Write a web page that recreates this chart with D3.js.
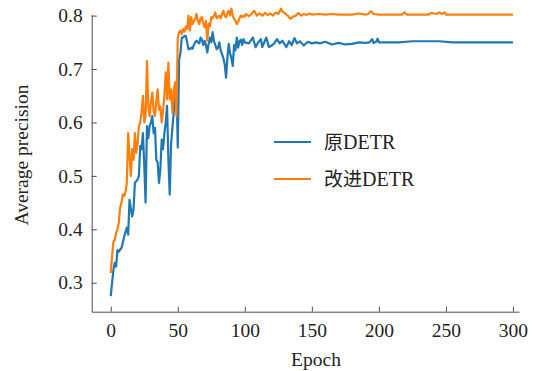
<!DOCTYPE html>
<html>
<head>
<meta charset="utf-8">
<script src="https://cdn.jsdelivr.net/npm/d3@7"></script>
<style>
    html, body { margin: 0; padding: 0; background: #fff; }
    svg { display: block; }
    svg text { font-family: 'Liberation Serif', 'DejaVu Serif', serif; fill: #222; }
    .axis path, .axis line { stroke: #4d4d4d; stroke-width: 1; }
    .axis text { font-size: 19.5px; font-family: 'Liberation Serif', serif; }
    .label { font-size: 19.5px; }
    .legend text { font-size: 20px; }
    .legend .cjk { font-family: 'Noto Sans CJK SC', sans-serif; font-size: 19px; }
    .legend .latin { font-family: 'Liberation Serif', serif; }
</style>
</head>
<body>
<div id="chart"></div>
<script>
// data: [epoch, average precision]
const seriesNames = ['原DETR', '改进DETR'];
const seriesColors = ['#1f77b4', '#ff7f0e'];
const xTicks = [0, 50, 100, 150, 200, 250, 300];
const yTicks = [0.3, 0.4, 0.5, 0.6, 0.7, 0.8];

const originalDetr = [
    [0, 0.275], [1, 0.30], [2, 0.324], [3, 0.337], [4, 0.33], [5, 0.361], [6, 0.358], [7, 0.362],
    [8, 0.365], [9, 0.375], [10, 0.386], [11, 0.395], [12, 0.403], [13, 0.39], [14, 0.455],
    [15, 0.44], [16, 0.424], [17, 0.437], [18, 0.487], [19, 0.49], [20, 0.493], [21, 0.50],
    [22, 0.556], [23, 0.55], [24, 0.58], [25, 0.52], [26, 0.45], [27, 0.593], [28, 0.57],
    [29, 0.593], [30, 0.60], [31, 0.612], [32, 0.58], [33, 0.59], [34, 0.53], [35, 0.525],
    [36, 0.487], [37, 0.512], [38, 0.568], [39, 0.55], [40, 0.58], [41, 0.60], [42, 0.631],
    [43, 0.53], [44, 0.465], [45, 0.56], [46, 0.59], [47, 0.62], [48, 0.662], [49, 0.675],
    [50, 0.553], [51, 0.718], [52, 0.73], [53, 0.759], [54, 0.759], [55, 0.762], [56, 0.762],
    [57, 0.75], [58, 0.737], [59, 0.737], [60, 0.74], [61, 0.738], [62, 0.745], [63, 0.75],
    [64, 0.753], [65, 0.75], [66, 0.748], [67, 0.759], [68, 0.755], [69, 0.745], [70, 0.753],
    [71, 0.745], [72, 0.731], [73, 0.747], [74, 0.759], [75, 0.75], [76, 0.769], [77, 0.752],
    [78, 0.745], [79, 0.737], [80, 0.74], [81, 0.75], [82, 0.735], [83, 0.728], [84, 0.72],
    [85, 0.709], [86, 0.684], [87, 0.72], [88, 0.747], [89, 0.73], [90, 0.72], [91, 0.706],
    [92, 0.745], [93, 0.735], [94, 0.759], [95, 0.74], [96, 0.752], [97, 0.755], [98, 0.745],
    [99, 0.756], [100, 0.75], [103, 0.748], [106, 0.759], [108, 0.741], [110, 0.75],
    [112, 0.756], [113, 0.741], [116, 0.759], [118, 0.741], [120, 0.744], [122, 0.748],
    [124, 0.756], [126, 0.748], [128, 0.753], [131, 0.741], [133, 0.752], [135, 0.745],
    [137, 0.758], [139, 0.748], [141, 0.752], [144, 0.744], [147, 0.751], [150, 0.748],
    [153, 0.75], [156, 0.748], [160, 0.751], [165, 0.746], [170, 0.749], [175, 0.746],
    [180, 0.747], [185, 0.75], [190, 0.749], [193, 0.75], [195, 0.756], [196, 0.749],
    [198, 0.751], [199, 0.757], [200, 0.75], [215, 0.75], [225, 0.752], [245, 0.752],
    [255, 0.75], [300, 0.75],
];

const improvedDetr = [
    [0, 0.318], [1, 0.35], [2, 0.377], [3, 0.38], [4, 0.393], [5, 0.40], [6, 0.412], [7, 0.44],
    [8, 0.45], [9, 0.465], [10, 0.462], [11, 0.47], [12, 0.487], [13, 0.58], [14, 0.537],
    [15, 0.50], [16, 0.55], [17, 0.53], [18, 0.58], [19, 0.543], [20, 0.56], [21, 0.593],
    [22, 0.60], [23, 0.62], [24, 0.65], [25, 0.60], [26, 0.612], [27, 0.715], [28, 0.63],
    [29, 0.612], [30, 0.64], [31, 0.656], [32, 0.62], [33, 0.612], [34, 0.64], [35, 0.662],
    [36, 0.624], [37, 0.63], [38, 0.60], [39, 0.62], [40, 0.65], [41, 0.694], [42, 0.643],
    [43, 0.712], [44, 0.643], [45, 0.662], [46, 0.618], [47, 0.66], [48, 0.675], [49, 0.612],
    [50, 0.759], [51, 0.769], [52, 0.772], [53, 0.765], [54, 0.775], [55, 0.77], [56, 0.78],
    [57, 0.775], [58, 0.80], [59, 0.772], [60, 0.797], [61, 0.784], [62, 0.79], [63, 0.794],
    [64, 0.803], [65, 0.79], [66, 0.784], [67, 0.795], [68, 0.797], [69, 0.785], [70, 0.778],
    [71, 0.79], [72, 0.753], [73, 0.785], [74, 0.78], [75, 0.797], [76, 0.795], [77, 0.80],
    [78, 0.806], [79, 0.795], [80, 0.798], [81, 0.80], [82, 0.795], [83, 0.803], [84, 0.809],
    [85, 0.80], [86, 0.797], [87, 0.805], [88, 0.809], [89, 0.80], [90, 0.813], [91, 0.80],
    [92, 0.794], [93, 0.79], [94, 0.784], [95, 0.788], [96, 0.795], [97, 0.80], [98, 0.797],
    [99, 0.80], [100, 0.798], [101, 0.803], [103, 0.799], [105, 0.803], [107, 0.809],
    [109, 0.80], [111, 0.804], [113, 0.80], [115, 0.805], [117, 0.801], [119, 0.804],
    [121, 0.80], [123, 0.806], [125, 0.803], [127, 0.813], [128, 0.808], [130, 0.804],
    [132, 0.80], [134, 0.794], [136, 0.798], [138, 0.80], [140, 0.805], [142, 0.80],
    [144, 0.803], [146, 0.801], [148, 0.804], [150, 0.802], [155, 0.803], [160, 0.802],
    [165, 0.803], [170, 0.802], [180, 0.802], [185, 0.804], [190, 0.802], [192, 0.803],
    [194, 0.808], [195, 0.806], [196, 0.803], [200, 0.802], [217, 0.802], [219, 0.806],
    [221, 0.802], [237, 0.802], [239, 0.805], [241, 0.804], [243, 0.803], [245, 0.806],
    [247, 0.803], [249, 0.806], [250, 0.802], [300, 0.802],
];

const seriesData = [originalDetr, improvedDetr];

const outerWidth = 538;
const outerHeight = 371;

const svg = d3.select('#chart')
    .append('svg')
    .attr('width', outerWidth)
    .attr('height', outerHeight);

// scale ranges are the spine extents
const xScale = d3.scaleLinear()
    .domain([-14.2, 304.5])
    .range([91.7, 519]);
const yScale = d3.scaleLinear()
    .domain([0.2457, 0.8019])
    .range([311.7, 14.6]);

// ticks point inward, like the original plot
const xAxis = d3.axisBottom(xScale)
    .tickValues(xTicks)
    .tickSize(-5)
    .tickSizeOuter(0)
    .tickPadding(11)
    .tickFormat(d3.format('d'));
svg.append('g')
    .attr('class', 'axis x')
    .attr('transform', `translate(0,${yScale.range()[0]})`)
    .call(xAxis)
    .attr('font-family', null);

const yAxis = d3.axisLeft(yScale)
    .tickValues(yTicks)
    .tickSize(-5)
    .tickSizeOuter(0)
    .tickPadding(9)
    .tickFormat(d3.format('.1f'));
svg.append('g')
    .attr('class', 'axis y')
    .attr('transform', `translate(${xScale.range()[0]},0)`)
    .call(yAxis)
    .attr('font-family', null);

svg.append('text')
    .attr('class', 'label')
    .attr('x', 316)
    .attr('y', 366)
    .attr('text-anchor', 'middle')
    .text('Epoch');

svg.append('text')
    .attr('class', 'label')
    .attr('transform', 'translate(28,155) rotate(-90)')
    .attr('text-anchor', 'middle')
    .text('Average precision');

const line = d3.line()
    .x((d) => xScale(d[0]))
    .y((d) => yScale(d[1]));

svg.append('g')
    .selectAll('path')
    .data(seriesData)
    .join('path')
    .attr('fill', 'none')
    .attr('stroke', (d, i) => seriesColors[i])
    .attr('stroke-width', 2.2)
    .attr('stroke-linejoin', 'round')
    .attr('d', line);

// legend
const legend = svg.append('g')
    .attr('class', 'legend')
    .attr('transform', 'translate(274,142)');

const legendItems = legend.selectAll('g')
    .data(seriesNames)
    .join('g')
    .attr('transform', (d, i) => `translate(0,${i * 37})`);

legendItems.append('line')
    .attr('x1', 0)
    .attr('x2', 37)
    .attr('stroke', (d, i) => seriesColors[i])
    .attr('stroke-width', 2.2);

// split han characters from latin so each run gets its own font
legendItems.append('text')
    .attr('x', 50)
    .attr('dy', '0.35em')
    .selectAll('tspan')
    .data((d) => d.split(/([\u4e00-\u9fff]+)/).filter((s) => s))
    .join('tspan')
    .attr('class', (s) => (/[\u4e00-\u9fff]/.test(s) ? 'cjk' : 'latin'))
    .text((s) => s);
</script>
</body>
</html>
